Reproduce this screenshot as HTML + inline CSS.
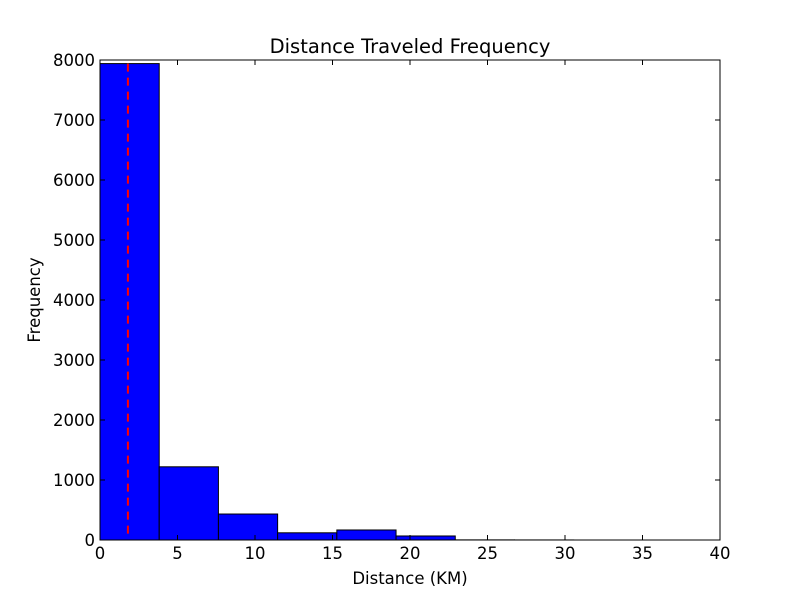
<!DOCTYPE html>
<html><head><meta charset="utf-8"><style>
body{margin:0;background:#fff;}
svg{display:block;font-family:"DejaVu Sans","Liberation Sans",sans-serif;}
</style></head><body>
<svg id="chart" width="800" height="600" xmlns="http://www.w3.org/2000/svg">
<rect width="800" height="600" fill="#fff"/>
<text x="410" y="53" font-size="19.5" text-anchor="middle">Distance Traveled Frequency</text>
<text x="410" y="584" font-size="16.5" text-anchor="middle">Distance (KM)</text>
<text transform="translate(40,300) rotate(-90)" font-size="16.5" text-anchor="middle">Frequency</text>
<g id="bars"></g>
<g id="ticks"></g>
<rect x="100" y="60" width="620" height="480" fill="none" stroke="#000" stroke-width="1"/>
</svg>
<script>
const binEdges = [0, 3.82, 7.64, 11.46, 15.28, 19.1, 22.92, 26.74, 30.56, 34.38, 38.2];
const counts = [7940, 1220, 433, 120, 167, 67, 2, 1, 0, 0];
const meanLine = [1.8];
const xTicks = [0, 5, 10, 15, 20, 25, 30, 35, 40];
const yTicks = [0, 1000, 2000, 3000, 4000, 5000, 6000, 7000, 8000];
const NS = "http://www.w3.org/2000/svg";
const X0=100, X1=720, Y0=540, Y1=60;
const xs = v => X0 + (v-0)/(40-0)*(X1-X0);
const ys = v => Y0 - v/8000*(Y0-Y1);
const bars = document.getElementById('bars');
const ticks = document.getElementById('ticks');
function mk(tag, attrs, parent){const e=document.createElementNS(NS,tag);for(const k in attrs)e.setAttribute(k,attrs[k]);parent.appendChild(e);return e;}
counts.forEach((c,i)=>{
  const r = mk('rect',{x:xs(binEdges[i]),y:ys(c),width:xs(binEdges[i+1])-xs(binEdges[i]),height:Y0-ys(c),fill:'#0000ff',stroke:'#000','stroke-width':1},bars);
  
  
});
meanLine.forEach(m=>{
  const l = mk('line',{x1:xs(m),x2:xs(m),y1:ys(7940),y2:Y0,stroke:'#ff0000','stroke-width':2,'stroke-dasharray':'8,6'},bars);
  
  
});
xTicks.forEach(t=>{
  const x=xs(t);
  mk('line',{x1:x,x2:x,y1:Y0,y2:Y0-5,stroke:'#000'},ticks);
  mk('line',{x1:x,x2:x,y1:Y1,y2:Y1+5,stroke:'#000'},ticks);
  const tx = mk('text',{x:x,y:Y0+19,'font-size':16.5,'text-anchor':'middle'},ticks);
  tx.textContent=t;
  
  
});
yTicks.forEach(t=>{
  const y=ys(t);
  mk('line',{x1:X0,x2:X0+5,y1:y,y2:y,stroke:'#000'},ticks);
  mk('line',{x1:X1,x2:X1-5,y1:y,y2:y,stroke:'#000'},ticks);
  const tx = mk('text',{x:X0-5,y:y+6,'font-size':16.5,'text-anchor':'end'},ticks);
  tx.textContent=t;
  
  
});
</script>
</body></html>
